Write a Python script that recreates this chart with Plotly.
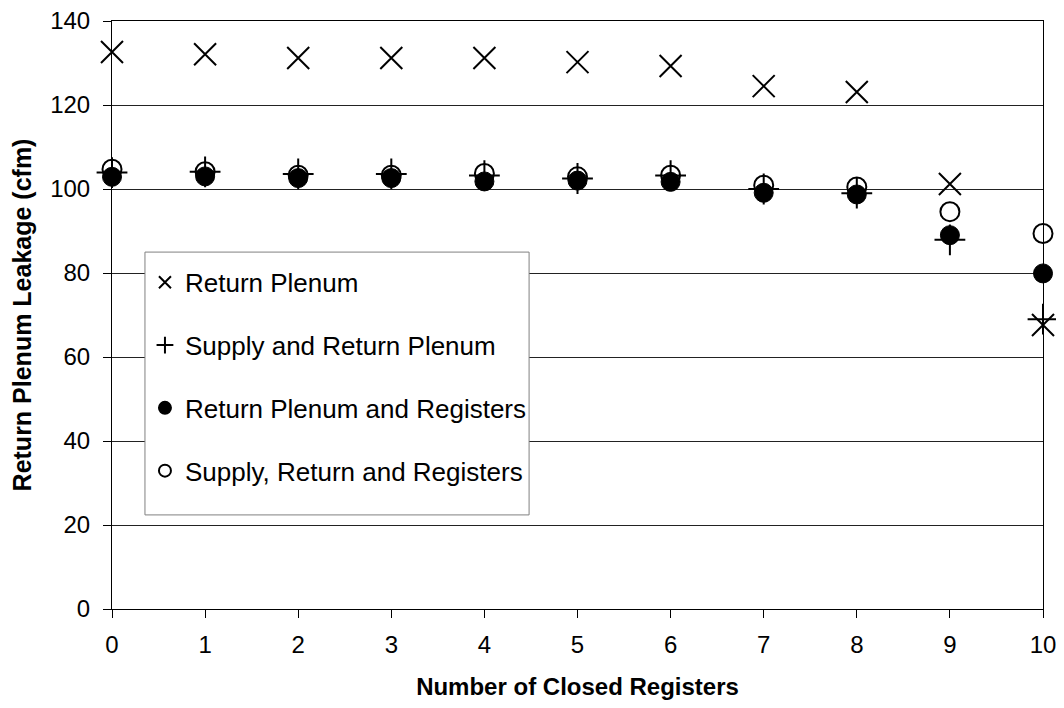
import plotly.graph_objects as go

registers = [0, 1, 2, 3, 4, 5, 6, 7, 8, 9, 10]
return_plenum = [132.6, 132.1, 131.2, 131.2, 131.2, 130.2, 129.3, 124.5, 123.1, 101.2, 67.6]
supply_return_plenum = [103.9, 104.1, 103.6, 103.6, 103.2, 102.5, 103.2, 100.0, 99.0, 87.9, 69.0]
return_plenum_registers = [102.9, 103.0, 102.6, 102.6, 101.8, 102.0, 101.7, 99.1, 98.7, 89.0, 79.9]
supply_return_registers = [104.7, 104.1, 103.3, 103.3, 103.7, 102.9, 103.3, 100.9, 100.5, 94.6, 89.4]

series_names = ["Return Plenum", "Supply and Return Plenum",
                "Return Plenum and Registers", "Supply, Return and Registers"]

fig = go.Figure()
fig.add_trace(go.Scatter(x=registers, y=return_plenum, mode="markers", name=series_names[0],
                         legendgroup="a", cliponaxis=False,
                         marker=dict(symbol="x-thin", size=22, color="black",
                                     line=dict(color="black", width=2))))
fig.add_trace(go.Scatter(x=registers, y=supply_return_plenum, mode="markers", name=series_names[1],
                         legendgroup="b", cliponaxis=False,
                         marker=dict(symbol="cross-thin", size=22, color="black",
                                     line=dict(color="black", width=2))))
fig.add_trace(go.Scatter(x=registers, y=return_plenum_registers, mode="markers", name=series_names[2],
                         legendgroup="c", cliponaxis=False,
                         marker=dict(symbol="circle", size=19, color="black",
                                     line=dict(color="black", width=1))))
fig.add_trace(go.Scatter(x=registers, y=supply_return_registers, mode="markers", name=series_names[3],
                         legendgroup="d", cliponaxis=False,
                         marker=dict(symbol="circle-open", size=19, color="black",
                                     line=dict(color="black", width=2))))

# legend frame (drawn as a shape so its padding can match the original)
fig.add_shape(type="rect", xref="paper", yref="paper",
              x0=0.0354, x1=0.448, y0=0.160, y1=0.607,
              fillcolor="white", line=dict(color="#808080", width=1), layer="above")

fig.update_layout(
    width=1048, height=692,
    margin=dict(l=104, r=13, t=13, b=91, autoexpand=False),
    paper_bgcolor="white", plot_bgcolor="white",
    font=dict(family="Arial, Liberation Sans, sans-serif", size=24, color="black"),
    showlegend=True,
    legend=dict(x=0.0354, y=0.5955, xanchor="left", yanchor="top",
                bgcolor="rgba(0,0,0,0)", borderwidth=0, itemsizing="constant",
                tracegroupgap=26, font=dict(size=26), itemwidth=30),
    xaxis=dict(range=[0, 10], tickmode="linear", tick0=0, dtick=1, automargin=False,
               showgrid=False, zeroline=False, showline=True, linecolor="black",
               linewidth=1, mirror=True, ticks="outside", ticklen=8, tickcolor="black",
               tickfont=dict(size=24), ticklabelstandoff=6, ticklabeloverflow="allow",
               title=dict(text="<b>Number of Closed Registers</b>", font=dict(size=24), standoff=28)),
    yaxis=dict(range=[0, 140], tickmode="linear", tick0=0, dtick=20, automargin=False,
               showgrid=True, gridcolor="#222222", gridwidth=1,
               zeroline=False, showline=True, linecolor="black",
               linewidth=1, mirror=True, ticks="outside", ticklen=8, tickcolor="black",
               tickfont=dict(size=24), ticklabelstandoff=8, ticklabeloverflow="allow",
               title=dict(text="<b>Return Plenum Leakage (cfm)</b>", font=dict(size=25), standoff=12)),
)

fig.write_html("out.html")
